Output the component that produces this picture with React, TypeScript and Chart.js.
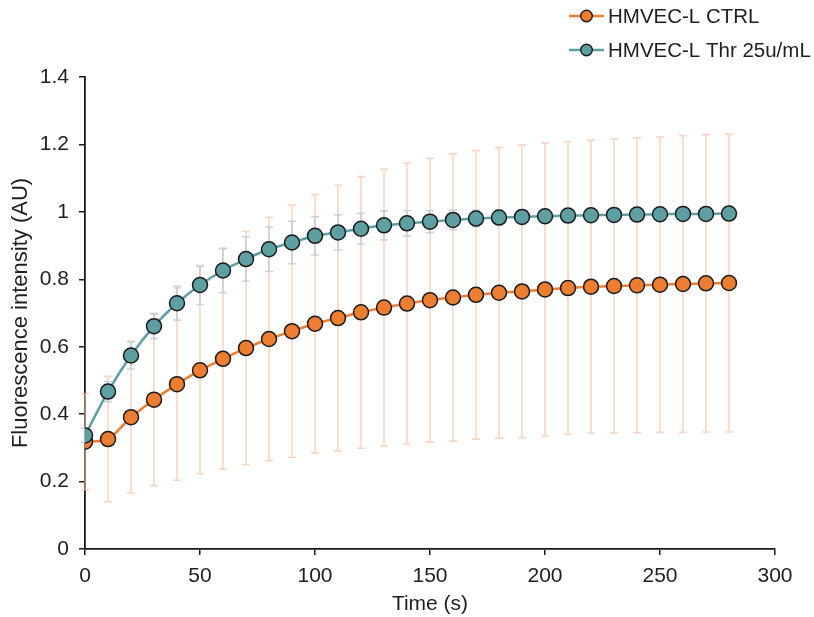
import React, { useEffect, useRef } from "react";
import { Chart, registerables } from "chart.js";

Chart.register(...registerables);

const times = [0, 10, 20, 30, 40, 50, 60, 70, 80, 90, 100, 110, 120, 130, 140, 150, 160, 170, 180, 190, 200, 210, 220, 230, 240, 250, 260, 270, 280];

const ctrlValues = [0.318, 0.326, 0.391, 0.443, 0.489, 0.53, 0.564, 0.596, 0.623, 0.646, 0.668, 0.685, 0.702, 0.716, 0.728, 0.738, 0.746, 0.754, 0.76, 0.764, 0.77, 0.774, 0.778, 0.78, 0.782, 0.784, 0.786, 0.788, 0.789];
const ctrlErrors = [0.143, 0.186, 0.225, 0.255, 0.285, 0.307, 0.327, 0.346, 0.361, 0.374, 0.383, 0.394, 0.403, 0.41, 0.416, 0.421, 0.426, 0.428, 0.431, 0.434, 0.434, 0.434, 0.434, 0.436, 0.437, 0.438, 0.44, 0.441, 0.442];

const thrValues = [0.337, 0.467, 0.574, 0.661, 0.729, 0.783, 0.826, 0.86, 0.889, 0.909, 0.929, 0.939, 0.95, 0.96, 0.966, 0.971, 0.976, 0.98, 0.983, 0.985, 0.987, 0.989, 0.99, 0.991, 0.992, 0.993, 0.994, 0.994, 0.995];
const thrErrors = [0.02, 0.03, 0.04, 0.037, 0.05, 0.058, 0.066, 0.066, 0.066, 0.063, 0.057, 0.052, 0.046, 0.043, 0.038, 0.033, 0.029, 0.025, 0.022, 0.02, 0.02, 0.02, 0.02, 0.02, 0.02, 0.02, 0.02, 0.02, 0.02];

const seriesLabels = ["HMVEC-L CTRL", "HMVEC-L Thr 25u/mL"];
const xTicks = [0, 50, 100, 150, 200, 250, 300];
const yTicks = [0, 0.2, 0.4, 0.6, 0.8, 1, 1.2, 1.4];

const ORANGE = "#ED7D31";
const TEAL = "#5E9FA4";
const ORANGE_ERR = "rgba(245, 190, 160, 0.65)";
const TEAL_ERR = "rgba(185, 205, 212, 0.8)";
const FONT = "'Liberation Sans', Arial, sans-serif";
const TEXT = "#1f1f1f";

const errorBarPlugin = {
  id: "errorBars",
  beforeDatasetsDraw(chart: any) {
    const ctx = chart.ctx;
    const xs = chart.scales.x;
    const ys = chart.scales.y;
    const sets = [
      { v: ctrlValues, e: ctrlErrors, c: ORANGE_ERR },
      { v: thrValues, e: thrErrors, c: TEAL_ERR },
    ];
    ctx.save();
    ctx.lineWidth = 1.6;
    for (const s of sets) {
      ctx.strokeStyle = s.c;
      for (let i = 0; i < times.length; i++) {
        const px = xs.getPixelForValue(times[i]);
        const top = ys.getPixelForValue(s.v[i] + s.e[i]);
        const bot = ys.getPixelForValue(s.v[i] - s.e[i]);
        ctx.beginPath();
        ctx.moveTo(px, top);
        ctx.lineTo(px, bot);
        ctx.moveTo(px - 4, top);
        ctx.lineTo(px + 4, top);
        ctx.moveTo(px - 4, bot);
        ctx.lineTo(px + 4, bot);
        ctx.stroke();
      }
    }
    ctx.restore();
  },
};

const legendPlugin = {
  id: "customLegend",
  afterDraw(chart: any) {
    const ctx = chart.ctx;
    const items = [
      { label: seriesLabels[0], color: ORANGE, y: 16 },
      { label: seriesLabels[1], color: TEAL, y: 50 },
    ];
    ctx.save();
    for (const it of items) {
      ctx.strokeStyle = it.color;
      ctx.lineWidth = 2.5;
      ctx.beginPath();
      ctx.moveTo(569, it.y);
      ctx.lineTo(604, it.y);
      ctx.stroke();
      ctx.beginPath();
      ctx.arc(586.5, it.y, 5.8, 0, Math.PI * 2);
      ctx.fillStyle = it.color;
      ctx.fill();
      ctx.lineWidth = 1.4;
      ctx.strokeStyle = "#1a1a1a";
      ctx.stroke();
      ctx.fillStyle = TEXT;
      ctx.font = `20.5px ${FONT}`;
      ctx.textBaseline = "middle";
      ctx.textAlign = "left";
      ctx.fillText(it.label, 608, it.y + 1);
    }
    ctx.restore();
  },
};

export default function App() {
  const ref = useRef<HTMLCanvasElement | null>(null);
  useEffect(() => {
    if (!ref.current) return;
    const chart = new Chart(ref.current, {
      type: "line",
      data: {
        datasets: [
          {
            label: seriesLabels[0],
            data: times.map((t, i) => ({ x: t, y: ctrlValues[i] })),
            borderColor: ORANGE,
            backgroundColor: ORANGE,
            borderWidth: 2.5,
            pointRadius: 7.5,
            pointBorderColor: "#1a1a1a",
            pointBackgroundColor: ORANGE,
            pointBorderWidth: 1.5,
            tension: 0.3,
            order: 1,
          },
          {
            label: seriesLabels[1],
            data: times.map((t, i) => ({ x: t, y: thrValues[i] })),
            borderColor: TEAL,
            backgroundColor: TEAL,
            borderWidth: 2.5,
            pointRadius: 7.5,
            pointBorderColor: "#1a1a1a",
            pointBackgroundColor: TEAL,
            pointBorderWidth: 1.5,
            tension: 0.3,
            order: 0,
          },
        ],
      },
      options: {
        responsive: false,
        animation: false,
        layout: { padding: { left: 0, right: 39, top: 77, bottom: 0 } },
        plugins: { legend: { display: false }, tooltip: { enabled: false } },
        scales: {
          x: {
            type: "linear",
            min: 0,
            max: 300,
            afterBuildTicks: (s: any) => {
              s.ticks = xTicks.map((v) => ({ value: v }));
            },
            afterFit: (s: any) => {
              s.height = 68;
            },
            grid: { display: true, drawOnChartArea: false, drawTicks: true, tickLength: 6, color: "#1a1a1a", lineWidth: 1.5 },
            border: { display: true, color: "#1a1a1a", width: 1.8 },
            ticks: { color: TEXT, font: { size: 21, family: FONT }, padding: 9, maxRotation: 0 },
            title: { display: true, text: "Time (s)", color: TEXT, font: { size: 21, family: FONT }, padding: { top: 0, bottom: 0 } },
          },
          y: {
            type: "linear",
            min: 0,
            max: 1.4,
            afterBuildTicks: (s: any) => {
              s.ticks = yTicks.map((v) => ({ value: v }));
            },
            afterFit: (s: any) => {
              s.width = 85;
            },
            grid: { display: true, drawOnChartArea: false, drawTicks: true, tickLength: 6, color: "#1a1a1a", lineWidth: 1.5 },
            border: { display: true, color: "#1a1a1a", width: 1.8 },
            ticks: {
              color: TEXT,
              font: { size: 21, family: FONT },
              padding: 10,
              callback: (v: any) => String(Math.round(Number(v) * 10) / 10),
            },
            title: { display: true, text: "Fluorescence intensity (AU)", color: TEXT, font: { size: 22, family: FONT }, padding: { top: 8, bottom: 0 } },
          },
        },
      },
      plugins: [errorBarPlugin, legendPlugin],
    } as any);
    return () => chart.destroy();
  }, []);
  return (
    <div style={{ position: "fixed", left: 0, top: 0, width: 814, height: 617, background: "#fff" }}>
      <canvas ref={ref} width={814} height={617} style={{ display: "block", width: 814, height: 617 }} />
    </div>
  );
}
